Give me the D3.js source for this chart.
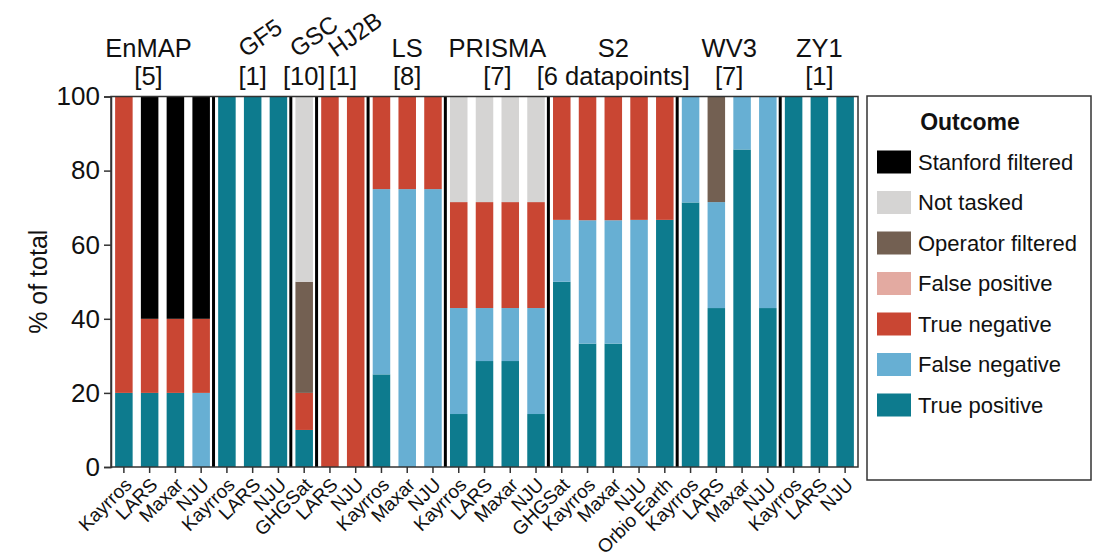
<!DOCTYPE html>
<html>
<head>
<meta charset="utf-8">
<script src="https://cdn.jsdelivr.net/npm/d3@7"></script>
<style>
  body { margin: 0; background: #fff; }
  svg text { font-family: "Liberation Sans", Arial, Helvetica, sans-serif; fill: #111; }
</style>
</head>
<body>
<svg id="chart" width="1104" height="559"></svg>
<script>
// satellites and the count shown under each name
const satellites = ['EnMAP', 'GF5', 'GSC', 'HJ2B', 'LS', 'PRISMA', 'S2', 'WV3', 'ZY1'];
const satelliteCounts = ['[5]', '[1]', '[10]', '[1]', '[8]', '[7]', '[6 datapoints]', '[7]', '[1]'];

// one entry per bar
const barSatellite = [
  'EnMAP', 'EnMAP', 'EnMAP', 'EnMAP',
  'GF5', 'GF5', 'GF5',
  'GSC',
  'HJ2B', 'HJ2B',
  'LS', 'LS', 'LS',
  'PRISMA', 'PRISMA', 'PRISMA', 'PRISMA',
  'S2', 'S2', 'S2', 'S2', 'S2',
  'WV3', 'WV3', 'WV3', 'WV3',
  'ZY1', 'ZY1', 'ZY1'
];
const barTeam = [
  'Kayrros', 'LARS', 'Maxar', 'NJU',
  'Kayrros', 'LARS', 'NJU',
  'GHGSat',
  'LARS', 'NJU',
  'Kayrros', 'Maxar', 'NJU',
  'Kayrros', 'LARS', 'Maxar', 'NJU',
  'GHGSat', 'Kayrros', 'Maxar', 'NJU', 'Orbio Earth',
  'Kayrros', 'LARS', 'Maxar', 'NJU',
  'Kayrros', 'LARS', 'NJU'
];

// % of total per outcome, same order as the bars
const truePositive     = [20, 20, 20, 0,  100, 100, 100,  10,  0, 0,    25, 0, 0,    14.3, 28.6, 28.6, 14.3,  50, 33.3, 33.3, 0, 66.7,  71.4, 42.9, 85.7, 42.9,  100, 100, 100];
const falseNegative    = [0, 0, 0, 20,    0, 0, 0,        0,   0, 0,    50, 75, 75,  28.6, 14.3, 14.3, 28.6,  16.7, 33.3, 33.3, 66.7, 0,  28.6, 28.6, 14.3, 57.1,  0, 0, 0];
const trueNegative     = [80, 20, 20, 20, 0, 0, 0,        10,  100, 100, 25, 25, 25,  28.6, 28.6, 28.6, 28.6,  33.3, 33.3, 33.3, 33.3, 33.3,  0, 0, 0, 0,  0, 0, 0];
const falsePositive    = [0, 0, 0, 0,     0, 0, 0,        0,   0, 0,    0, 0, 0,     0, 0, 0, 0,  0, 0, 0, 0, 0,  0, 0, 0, 0,  0, 0, 0];
const operatorFiltered = [0, 0, 0, 0,     0, 0, 0,        30,  0, 0,    0, 0, 0,     0, 0, 0, 0,  0, 0, 0, 0, 0,  0, 28.6, 0, 0,  0, 0, 0];
const notTasked        = [0, 0, 0, 0,     0, 0, 0,        50,  0, 0,    0, 0, 0,     28.6, 28.6, 28.6, 28.6,  0, 0, 0, 0, 0,  0, 0, 0, 0,  0, 0, 0];
const stanfordFiltered = [0, 60, 60, 60,  0, 0, 0,        0,   0, 0,    0, 0, 0,     0, 0, 0, 0,  0, 0, 0, 0, 0,  0, 0, 0, 0,  0, 0, 0];

const yTicks = [0, 20, 40, 60, 80, 100];

// stacking order, bottom first
const outcomes = [
  { key: 'True positive', values: truePositive, color: '#0d7b8e' },
  { key: 'False negative', values: falseNegative, color: '#67afd3' },
  { key: 'True negative', values: trueNegative, color: '#c94633' },
  { key: 'False positive', values: falsePositive, color: '#e3aaa1' },
  { key: 'Operator filtered', values: operatorFiltered, color: '#736052' },
  { key: 'Not tasked', values: notTasked, color: '#d5d4d3' },
  { key: 'Stanford filtered', values: stanfordFiltered, color: '#000000' }
];

const svg = d3.select('#chart');
const margin = { left: 111, right: 246, top: 96.5, bottom: 92 };
const width = 1104;
const height = 559;
const innerW = width - margin.left - margin.right;
const innerH = height - margin.top - margin.bottom;

const rows = barTeam.map((team, i) => {
  const r = { id: i, team, sat: barSatellite[i] };
  outcomes.forEach(o => { r[o.key] = o.values[i]; });
  return r;
});

const x = d3.scaleBand()
  .domain(rows.map(d => d.id))
  .range([0, innerW])
  .paddingInner(0.32)
  .paddingOuter(0.16);

const y = d3.scaleLinear().domain([0, 100]).range([innerH, 0]);

const stack = d3.stack().keys(outcomes.map(o => o.key));
const series = stack(rows);
const colorOf = new Map(outcomes.map(o => [o.key, o.color]));

const g = svg.append('g').attr('transform', `translate(${margin.left},${margin.top})`);

g.append('g')
  .selectAll('g')
  .data(series)
  .join('g')
  .attr('fill', d => colorOf.get(d.key))
  .selectAll('rect')
  .data(d => d)
  .join('rect')
  .attr('x', d => x(d.data.id))
  .attr('width', x.bandwidth())
  .attr('y', d => y(d[1]))
  .attr('height', d => Math.max(0, y(d[0]) - y(d[1])));

// group separators between satellites
const step = x.step();
const groupStart = new Map();
const groupEnd = new Map();
rows.forEach(d => {
  if (!groupStart.has(d.sat)) groupStart.set(d.sat, d.id);
  groupEnd.set(d.sat, d.id);
});
const boundaries = satellites.slice(1).map(s => groupStart.get(s));
g.append('g')
  .selectAll('line')
  .data(boundaries)
  .join('line')
  .attr('x1', d => d * step - 0.5)
  .attr('x2', d => d * step - 0.5)
  .attr('y1', 0)
  .attr('y2', innerH)
  .attr('stroke', '#000')
  .attr('stroke-width', 3);

// frame
g.append('rect')
  .attr('width', innerW)
  .attr('height', innerH)
  .attr('fill', 'none')
  .attr('stroke', '#333')
  .attr('stroke-width', 1.5);

// y axis
const yAxis = g.append('g')
  .call(d3.axisLeft(y).tickValues(yTicks).tickSize(7).tickPadding(4));
yAxis.select('.domain').attr('stroke', '#333').attr('stroke-width', 1.5);
yAxis.selectAll('.tick line').attr('stroke', '#333').attr('stroke-width', 1.5);
yAxis.selectAll('.tick text')
  .style('font-size', '26px')
  .attr('fill', '#111');

// x axis
const xAxis = g.append('g')
  .attr('transform', `translate(0,${innerH})`)
  .call(d3.axisBottom(x).tickFormat(i => barTeam[i]).tickSize(6));
xAxis.select('.domain').remove();
xAxis.selectAll('.tick line').attr('stroke', '#333').attr('stroke-width', 1.5);
xAxis.selectAll('.tick text')
  .style('font-size', '19px')
  .attr('text-anchor', 'end')
  .attr('dy', null)
  .attr('y', null)
  .attr('transform', 'translate(9,19) rotate(-45)')
  .attr('fill', '#111');

// y label
svg.append('text')
  .attr('transform', `translate(47,${margin.top + innerH / 2}) rotate(-90)`)
  .attr('text-anchor', 'middle')
  .style('font-size', '25px')
  .text('% of total');

// satellite headers
const narrow = new Set(['GF5', 'GSC', 'HJ2B']);
const header = svg.append('g').attr('transform', `translate(${margin.left},0)`);
satellites.forEach((s, i) => {
  const a = groupStart.get(s);
  const b = groupEnd.get(s);
  const cx = (a + b + 1) / 2 * step;
  const shift = s === 'EnMAP' ? -14 : 0;
  if (narrow.has(s)) {
    header.append('text')
      .attr('transform', `translate(${cx - 7},58) rotate(-35)`)
      .style('font-size', '24px')
      .text(s);
  } else {
    header.append('text')
      .attr('x', cx + shift)
      .attr('y', 57)
      .attr('text-anchor', 'middle')
      .style('font-size', '25.5px')
      .text(s);
  }
  header.append('text')
    .attr('x', cx + shift)
    .attr('y', 85)
    .attr('text-anchor', 'middle')
    .style('font-size', '25.5px')
    .text(satelliteCounts[i]);
});

// legend
const legend = svg.append('g').attr('transform', 'translate(867,96)');
legend.append('rect')
  .attr('width', 224)
  .attr('height', 384)
  .attr('fill', '#fff')
  .attr('stroke', '#333')
  .attr('stroke-width', 1.5);
legend.append('text')
  .attr('x', 103)
  .attr('y', 34)
  .attr('text-anchor', 'middle')
  .style('font-size', '23px')
  .style('font-weight', 'bold')
  .text('Outcome');

const legendItems = outcomes.slice().reverse();
const item = legend.selectAll('g.item')
  .data(legendItems)
  .join('g')
  .attr('class', 'item')
  .attr('transform', (d, i) => `translate(10,${66 + i * 40.5 - 11.5})`);
item.append('rect')
  .attr('width', 34)
  .attr('height', 23)
  .attr('fill', d => d.color);
item.append('text')
  .attr('x', 41)
  .attr('y', 19)
  .style('font-size', '22px')
  .text(d => d.key);
</script>
</body>
</html>
